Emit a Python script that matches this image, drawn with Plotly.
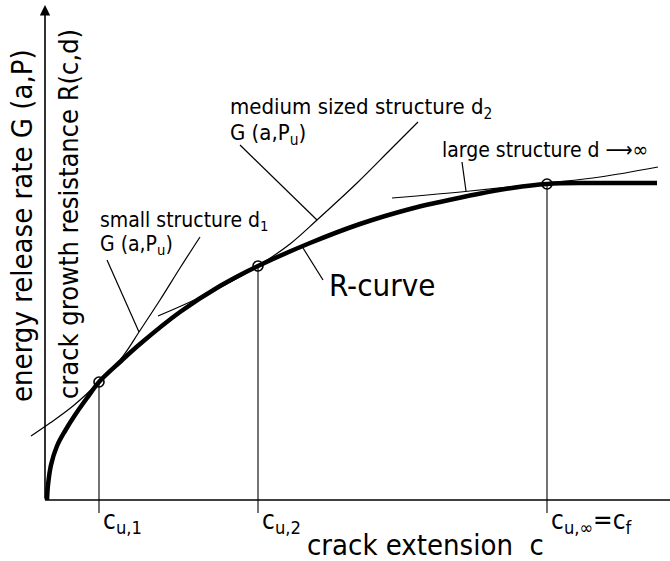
import plotly.graph_objects as go

# ---- data (arbitrary units: crack extension c, energy G / resistance R) ----
r_c = [0.2, 0.3, 0.6, 1.2, 2.0, 3.0, 4.2, 5.4, 7.5, 9.5, 13.5, 17.5, 21.3, 26.5, 31.5, 36.5, 39.5, 43.3, 46.7, 50.2, 54.5, 61.2]
r_g = [0.0, 1.5, 3.5, 5.4, 6.9, 8.5, 10.2, 11.8, 13.8, 15.6, 18.8, 21.4, 23.4, 25.7, 27.6, 29.1, 29.8, 30.6, 31.2, 31.6, 31.7, 31.7]

g1_c = [-1.4, 0.5, 2.8, 5.4, 7.8, 9.4, 11.5, 13.5, 15.5]
g1_g = [6.4, 7.7, 9.4, 11.8, 14.4, 16.8, 20.0, 23.2, 26.3]

g2_c = [11.3, 14.5, 18.0, 21.3, 24.5, 27.2, 31.2, 34.5, 37.3]
g2_g = [18.4, 19.8, 21.5, 23.4, 25.6, 28.0, 31.7, 35.0, 37.8]

g3_c = [34.7, 42.5, 50.2, 55.5, 61.3]
g3_g = [30.2, 30.9, 31.7, 32.3, 33.3]

crit_c = [5.4, 21.3, 50.2]
crit_g = [11.8, 23.4, 31.6]
crit_labels = ["c<sub>u,1</sub>", "c<sub>u,2</sub>", "c<sub>u,\u221e</sub>=c<sub>f</sub>"]

# leader lines: (c0, g0, c1, g1)
leaders = [
    (6.2, 24.0, 9.4, 16.8),
    (19.5, 35.5, 27.2, 28.0),
    (25.8, 25.2, 27.8, 22.0),
    (41.7, 33.8, 42.1, 30.9),
]

x_max = 62.5
y_top = 49.5
drop_bottom = -1.3

FONT = "DejaVu Sans Condensed"

fig = go.Figure()

thin = dict(color="black", width=1.2)

fig.add_trace(go.Scatter(x=g1_c, y=g1_g, mode="lines", line=dict(shape="spline", **thin), hoverinfo="skip"))
fig.add_trace(go.Scatter(x=g2_c, y=g2_g, mode="lines", line=dict(shape="spline", **thin), hoverinfo="skip"))
fig.add_trace(go.Scatter(x=g3_c, y=g3_g, mode="lines", line=dict(shape="spline", **thin), hoverinfo="skip"))

for c0, y0, c1, y1 in leaders:
    fig.add_trace(go.Scatter(x=[c0, c1], y=[y0, y1], mode="lines", line=thin, hoverinfo="skip"))

for c, g in zip(crit_c, crit_g):
    fig.add_trace(go.Scatter(x=[c, c], y=[g, drop_bottom], mode="lines", line=dict(color="black", width=1.1), hoverinfo="skip"))

fig.add_trace(go.Scatter(x=r_c, y=r_g, mode="lines", line=dict(color="black", width=4.5, shape="spline", smoothing=1.0), hoverinfo="skip"))

fig.add_trace(go.Scatter(x=crit_c, y=crit_g, mode="markers",
                         marker=dict(symbol="circle-open", size=10, color="black", line=dict(width=1.6)),
                         hoverinfo="skip"))

# axes
fig.add_trace(go.Scatter(x=[0, x_max], y=[0, 0], mode="lines", line=dict(color="black", width=1.6), hoverinfo="skip"))
fig.add_annotation(x=0, y=y_top, ax=0, ay=0, xref="x", yref="y", axref="x", ayref="y",
                   showarrow=True, arrowhead=2, arrowsize=1.3, arrowwidth=1.6, arrowcolor="black", text="")

def txt(x, y, s, size, xanchor="left", angle=0):
    fig.add_annotation(x=x, y=y, xref="x", yref="y", text=s, showarrow=False,
                       xanchor=xanchor, yanchor="middle", textangle=angle,
                       font=dict(family=FONT, size=size, color="black"))

txt(-2.3, 27.4, "energy release rate G (a,P)", 29, xanchor="center", angle=-90)
txt(2.3, 28.6, "crack growth resistance R(c,d)", 27, xanchor="center", angle=-90)

txt(5.3, 27.9, "small structure d<sub>1</sub>", 21)
txt(5.3, 25.5, "G (a,P<sub>u</sub>)", 21)
txt(18.3, 39.2, "medium sized structure d<sub>2</sub>", 22)
txt(18.3, 36.6, "G (a,P<sub>u</sub>)", 22)
txt(39.5, 35.0, "large structure d \u27f6\u221e", 21)
txt(28.2, 21.5, "R-curve", 31)

for c, lab in zip(crit_c, crit_labels):
    txt(c + 0.2, -2.1, lab, 26)

txt(26.0, -4.5, "crack extension  c", 29)

fig.update_xaxes(range=[-4.5, 62.5], visible=False, fixedrange=True)
fig.update_yaxes(range=[-6.1, 50.0], visible=False, fixedrange=True)
fig.update_layout(width=670, height=561, margin=dict(l=0, r=0, t=0, b=0),
                  paper_bgcolor="white", plot_bgcolor="white", showlegend=False)

fig.write_html("out.html", config={"displayModeBar": False},
               post_script="document.body.style.margin='0';document.body.style.overflow='hidden';")
